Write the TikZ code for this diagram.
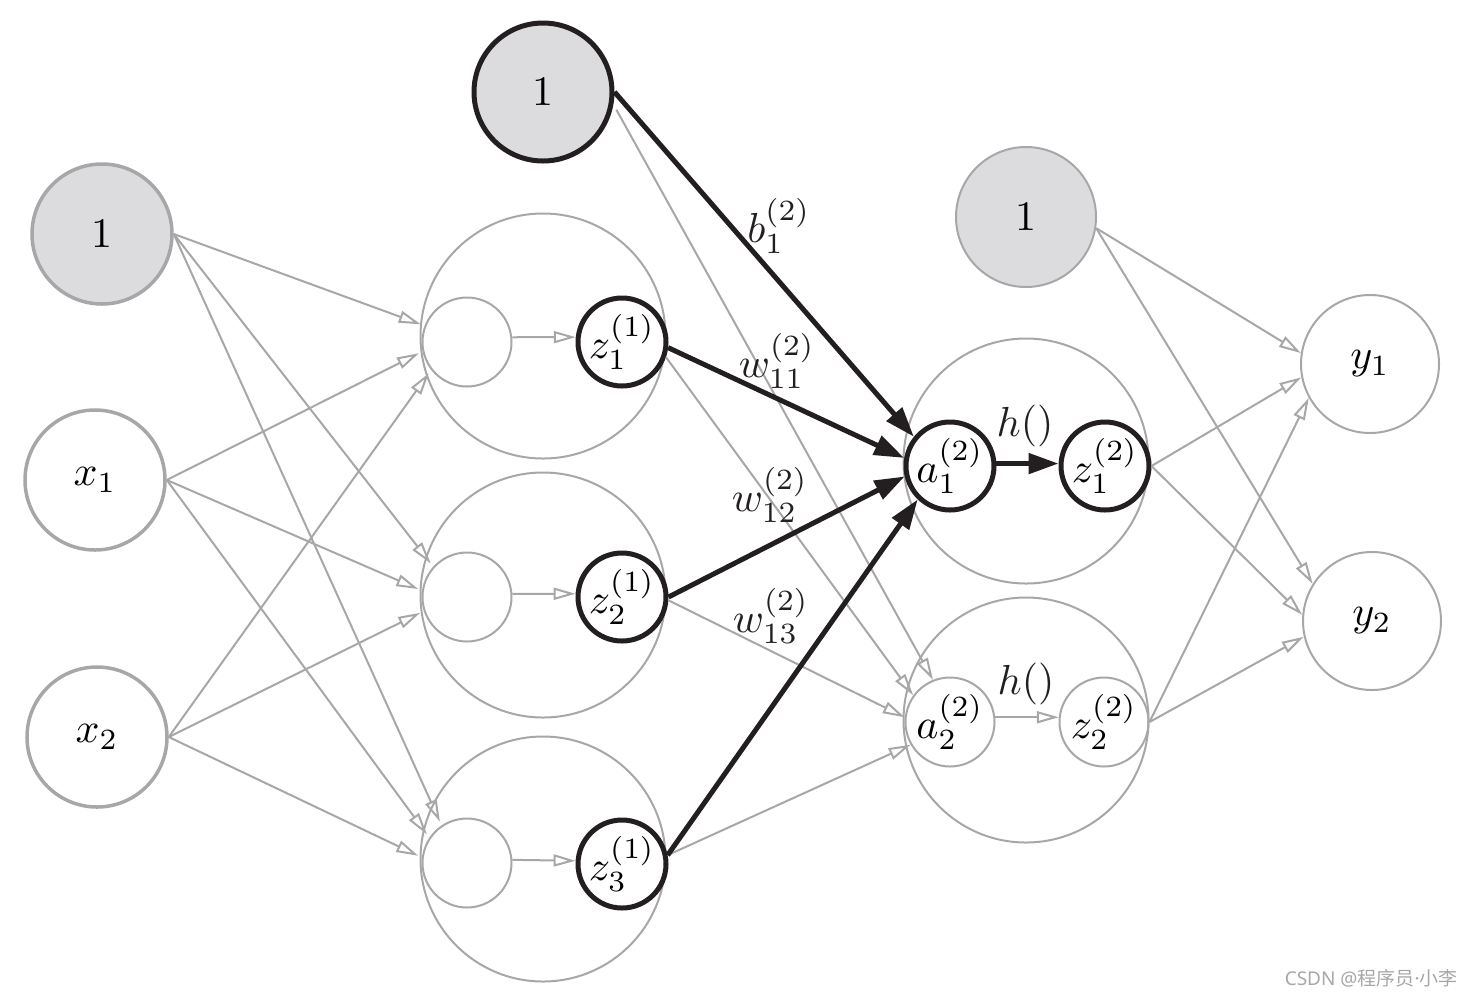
\documentclass[tikz,border=0pt]{standalone}
\usepackage{graphicx}
\usepackage{fontspec}
\newfontfamily\cjk{Noto Sans CJK SC}
\newfontfamily\wmfont{Noto Sans}
\newcommand\bigt[1]{\scalebox{2.1}{#1}}
\usetikzlibrary{arrows.meta}
\definecolor{gline}{HTML}{A7A7AA}
\definecolor{dark}{HTML}{231F20}
\definecolor{bfill}{HTML}{DCDCDE}
\begin{document}
\begin{tikzpicture}[x=0.5pt,y=-0.5pt,
  font=\fontsize{10}{12}\selectfont,
  every node/.style={inner sep=0pt},
  inpt/.style={circle, draw=gline, line width=1.75pt, minimum size=70pt},
  biasL/.style={inpt, fill=bfill},
  bigc/.style={circle, draw=gline, line width=1pt, minimum size=122.5pt},
  smallc/.style={circle, draw=gline, line width=1pt, minimum size=44.5pt},
  blk/.style={circle, draw=dark, line width=2.5pt, minimum size=44pt},
  biasT/.style={circle, draw=dark, line width=2.5pt, fill=bfill, minimum size=69pt},
  biasR/.style={circle, draw=gline, line width=1pt, fill=bfill, minimum size=70pt},
  outc/.style={circle, draw=gline, line width=1pt, minimum size=69pt},
  garrow/.style={draw=gline, line width=1pt, -{Triangle[open,length=11pt,width=6pt]}},
  barrow/.style={draw=dark, line width=2.5pt, -{Triangle[length=15pt,width=10pt]}},
  lbl/.style={text=dark}
]
\useasboundingbox (0,0) rectangle (1472,998);

% big grouping circles
\node[bigc] (H1) at (543,336) {};
\node[bigc] (H2) at (543,595) {};
\node[bigc] (H3) at (543,859) {};
\node[bigc] (O1) at (1026,461) {};
\node[bigc] (O2) at (1026,720) {};

% input layer
\node[biasL] (bL) at (102,234) {\bigt{1}};
\node[inpt] (x1) at (95,480) {\bigt{$x_1$}};
\node[inpt] (x2) at (97,737) {\bigt{$x_2$}};

% hidden layer
\node[smallc] (s1) at (467,342) {};
\node[smallc] (s2) at (467,597) {};
\node[smallc] (s3) at (467,863) {};
\node[blk] (z1) at (622,342) {\bigt{$z_1^{(1)}$}};
\node[blk] (z2) at (622,597) {\bigt{$z_2^{(1)}$}};
\node[blk] (z3) at (622,864) {\bigt{$z_3^{(1)}$}};
\node[biasT] (bT) at (543,92) {\bigt{1}};

% second layer
\node[blk] (a1) at (950,466) {\bigt{$a_1^{(2)}$}};
\node[blk] (zb1) at (1105,466) {\bigt{$z_1^{(2)}$}};
\node[smallc] (a2) at (950,722) {\bigt{$a_2^{(2)}$}};
\node[smallc] (zb2) at (1104,722) {\bigt{$z_2^{(2)}$}};
\node[biasR] (bR) at (1026,217) {\bigt{1}};

% output layer
\node[outc] (y1) at (1370,364) {\bigt{$y_1$}};
\node[outc] (y2) at (1372,621) {\bigt{$y_2$}};

% input -> hidden
\begin{scope}[every path/.style={garrow, shorten >=2pt}]
\draw (bL.east) -- (s1.159.6);
\draw (bL.east) -- (s2.138.4);
\draw (bL.east) -- (s3.124.4);
\draw (x1.east) -- (s1.192);
\draw (x1.east) -- (s2.172.7);
\draw (x1.east) -- (s3.146.3);
\draw (x2.east) -- (s1.218.5);
\draw (x2.east) -- (s2.198);
\draw (x2.east) -- (s3.173);
\end{scope}

% inside hidden neurons
\draw[garrow] (s1.6) -- (z1.174);
\draw[garrow] (s2.4) -- (z2.176);
\draw[garrow] (s3.4) -- (z3.176);

% hidden -> second layer (gray)
\draw[garrow, shorten <=3pt] (bT.-10) -- (a2.112);
\draw[garrow] (z1.-19) -- (a2.144);
\draw[garrow] (z2.-4) -- (a2.174);
\draw[garrow] (z3.11) -- (a2.210);

% hidden -> a1 (black)
\draw[barrow] (bT.0) -- (a1.141.8);
\draw[barrow] (z1.-7) -- (a1.170);
\draw[barrow] (z2.0) -- (a1.193.5);
\draw[barrow] (z3.11) -- (a1.226);

% activation arrows
\draw[barrow] (a1.3) -- (zb1.177);
\draw[garrow] (a2.6) -- (zb2.174);

% second layer -> output
\draw[garrow] (bR.-9) -- (y1.171);
\draw[garrow] (bR.-9) -- (y2.148);
\draw[garrow] (zb1.east) -- (y1.191.6);
\draw[garrow] (zb1.east) -- (y2.175);
\draw[garrow] (zb2.east) -- (y1.209);
\draw[garrow] (zb2.east) -- (y2.193);

% labels
\node[lbl] (lb) at (779,226) {\bigt{$b_1^{(2)}$}};
\node[lbl] (lw11) at (777,361) {\bigt{$w_{11}^{(2)}$}};
\node[lbl] (lw12) at (770,495) {\bigt{$w_{12}^{(2)}$}};
\node[lbl] (lw13) at (771,616) {\bigt{$w_{13}^{(2)}$}};
\node[lbl] (lh1) at (1025,426) {\bigt{$h()$}};
\node[lbl] (lh2) at (1026,684) {\bigt{$h()$}};

% watermark
\node[anchor=east, text=gline, font=\fontsize{9.5}{11}\selectfont] (wm) at (1458,978) {\wmfont CSDN @{\cjk 程序员}·{\cjk 小李}};
\end{tikzpicture}
\end{document}
